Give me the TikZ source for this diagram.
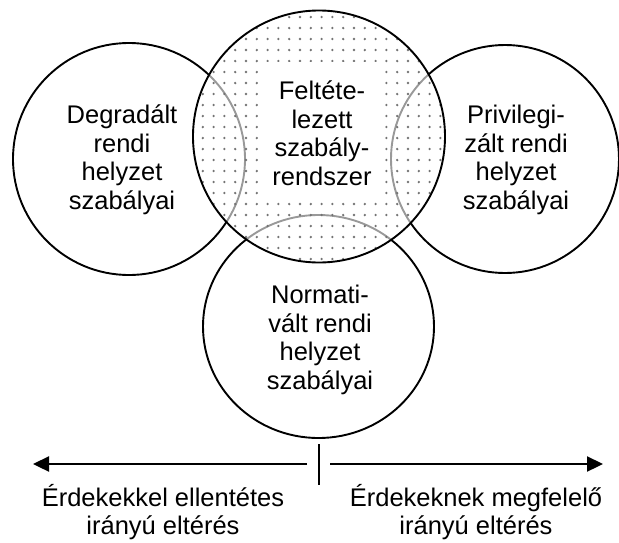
\documentclass[tikz,border=0pt]{standalone}
\usepackage{fontspec}
\setmainfont{Liberation Sans}
\usetikzlibrary{arrows.meta}
\begin{document}
\begin{tikzpicture}[x=1pt,y=-1pt,
  ring/.style={draw=black,line width=1.9pt},
  lbl/.style={align=center,inner sep=0pt,font=\fontsize{25.5}{28.5}\selectfont},
  axis/.style={line width=2.3pt},
  arr/.style={axis,-{Triangle[length=16pt,width=15pt]}},
  dotfill/.style={fill=black!55}]
\useasboundingbox (0,0) rectangle (619,542);
% outer circles
\draw[ring] (129,159) circle[radius=116pt];
\draw[ring] (505,159) circle[radius=114pt];
\draw[ring] (318.5,326.5) ellipse[x radius=115.5pt,y radius=111.5pt];
% top circle with dotted fill
\fill[white,opacity=0.6] (319,136.5) circle[radius=126pt];
\begin{scope}
  \clip (319,136.5) circle[radius=126pt];
  \foreach \i in {0,...,25}{
    \foreach \j in {0,...,24}{
      \fill[dotfill] ({192+\i*10.8},{6+\j*11}) circle[radius=1.3pt];
    }
  }
\end{scope}
\fill[white,rounded corners=8pt] (258,62) rectangle (385,200);
\draw[ring] (319,136.5) circle[radius=126pt];
% texts
\node[lbl] (tl) at (122,160) {Degradált\\rendi\\helyzet\\szabályai};
\node[lbl] (tc) at (322,133) {Feltéte-\\lezett\\szabály-\\rendszer};
\node[lbl] (tr) at (516,160) {Privilegi-\\zált rendi\\helyzet\\szabályai};
\node[lbl] (tb) at (320,340) {Normati-\\vált rendi\\helyzet\\szabályai};
% axis
\coordinate (ml) at (307,464);
\coordinate (el) at (33,464);
\coordinate (mr) at (330,464);
\coordinate (er) at (603,464);
\coordinate (kt) at (319,444);
\coordinate (kb) at (319,485);
\draw[arr] (ml) -- (el);
\draw[arr] (mr) -- (er);
\draw[axis] (kt) -- (kb);
\node[lbl] (bl) at (163,512) {Érdekekkel ellentétes\\irányú eltérés};
\node[lbl] (br) at (476,512) {Érdekeknek megfelelő\\irányú eltérés};
\end{tikzpicture}
\end{document}
